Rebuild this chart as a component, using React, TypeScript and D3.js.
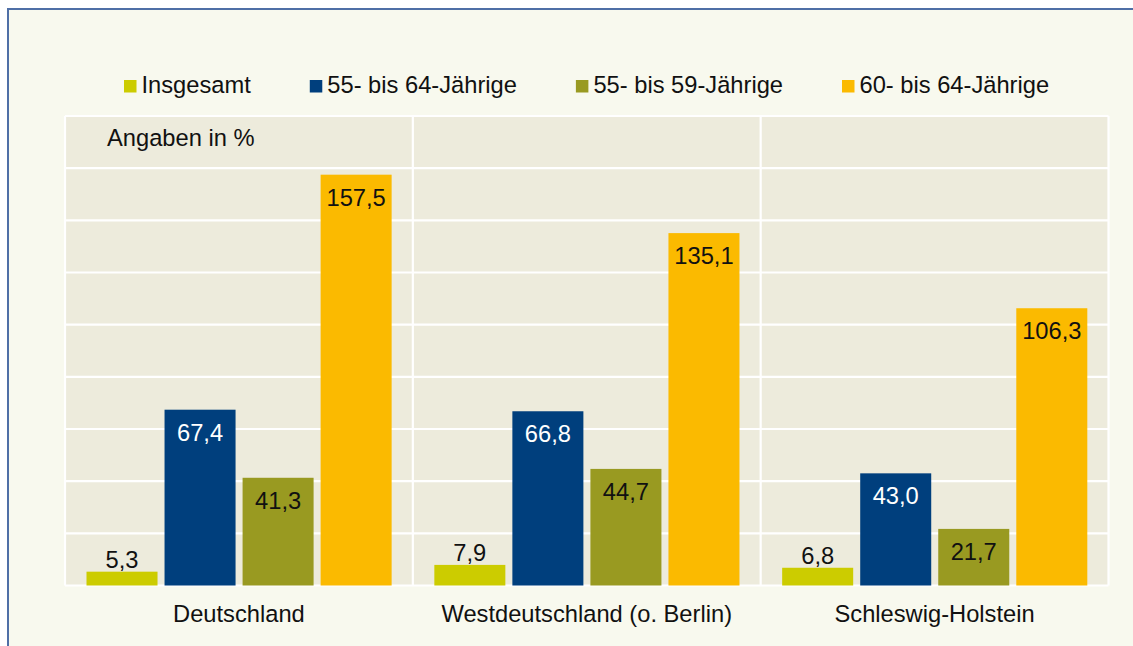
import React, { useEffect, useRef } from "react";
import * as d3 from "d3";

const categories = ["Deutschland", "Westdeutschland (o. Berlin)", "Schleswig-Holstein"];
const seriesNames = ["Insgesamt", "55- bis 64-Jährige", "55- bis 59-Jährige", "60- bis 64-Jährige"];
const insgesamt = [5.3, 7.9, 6.8];
const age55to64 = [67.4, 66.8, 43.0];
const age55to59 = [41.3, 44.7, 21.7];
const age60to64 = [157.5, 135.1, 106.3];
const seriesValues = [insgesamt, age55to64, age55to59, age60to64];
const gridTicks = [0, 20, 40, 60, 80, 100, 120, 140, 160, 180];
const unitNote = "Angaben in %";

const colors = ["#cccc00", "#003f7d", "#999a21", "#fbba00"];
const labelColors = ["#111111", "#ffffff", "#111111", "#111111"];

const W = 1133;
const H = 646;
const FONT = "'Liberation Sans', Arial, Helvetica, sans-serif";
const FS = 23.7;

export default function App() {
  const ref = useRef<SVGSVGElement | null>(null);

  useEffect(() => {
    const svg = d3.select(ref.current);
    svg.selectAll("*").remove();

    // outer frame
    svg.append("rect").attr("x", 0).attr("y", 0).attr("width", W).attr("height", H).attr("fill", "#ffffff");
    svg.append("rect")
      .attr("x", 8).attr("y", 9).attr("width", W + 50).attr("height", H + 50)
      .attr("fill", "#f8f9ee").attr("stroke", "#4f6fa6").attr("stroke-width", 2);

    const plot = { left: 65, right: 1108.5, top: 116, bottom: 585.5 };

    const x = d3.scaleBand<string>().domain(categories).range([plot.left, plot.right]).padding(0);
    const inner = d3.scaleBand<string>()
      .domain(seriesNames)
      .range([21.5, x.bandwidth() - 21.2])
      .paddingInner(0.09)
      .paddingOuter(0);
    const y = d3.scaleLinear().domain([0, 180]).range([plot.bottom, plot.top]);

    // plot background
    svg.append("rect")
      .attr("x", plot.left).attr("y", plot.top)
      .attr("width", plot.right - plot.left).attr("height", plot.bottom - plot.top)
      .attr("fill", "#edebdc");

    // horizontal gridlines
    svg.append("g").selectAll("line").data(gridTicks).join("line")
      .attr("x1", plot.left).attr("x2", plot.right)
      .attr("y1", (d) => y(d)).attr("y2", (d) => y(d))
      .attr("stroke", "#ffffff").attr("stroke-width", 2.2);

    // vertical separators
    const seps = [plot.left, ...categories.map((c) => (x(c) as number) + x.bandwidth())];
    svg.append("g").selectAll("line").data(seps).join("line")
      .attr("x1", (d) => d).attr("x2", (d) => d)
      .attr("y1", plot.top).attr("y2", plot.bottom)
      .attr("stroke", "#ffffff").attr("stroke-width", 2.2);

    // bars
    const barData: { cat: string; s: number; v: number }[] = [];
    categories.forEach((cat, ci) => {
      seriesValues.forEach((vals, si) => barData.push({ cat, s: si, v: vals[ci] }));
    });

    const bx = (d: { cat: string; s: number }) => (x(d.cat) as number) + (inner(seriesNames[d.s]) as number);

    svg.append("g").selectAll("rect").data(barData).join("rect")
      .attr("x", bx)
      .attr("y", (d) => y(d.v))
      .attr("width", inner.bandwidth())
      .attr("height", (d) => y(0) - y(d.v))
      .attr("fill", (d) => colors[d.s]);

    // value labels
    const fmt = (v: number) => d3.format(".1f")(v).replace(".", ",");
    svg.append("g").selectAll("text").data(barData).join("text")
      .attr("x", (d) => bx(d) + inner.bandwidth() / 2)
      .attr("y", (d) => (d.s === 0 ? y(d.v) - 4 : y(d.v) + 31))
      .attr("text-anchor", "middle")
      .attr("font-family", FONT).attr("font-size", FS)
      .attr("fill", (d) => labelColors[d.s])
      .text((d) => fmt(d.v));

    // category labels
    svg.append("g").selectAll("text").data(categories).join("text")
      .attr("x", (d) => (x(d) as number) + x.bandwidth() / 2)
      .attr("y", 622)
      .attr("text-anchor", "middle")
      .attr("font-family", FONT).attr("font-size", FS)
      .attr("fill", "#111111")
      .text((d) => d);

    // unit note
    svg.append("text")
      .attr("x", 107).attr("y", 146)
      .attr("font-family", FONT).attr("font-size", FS)
      .attr("fill", "#111111")
      .text(unitNote);

    // legend
    const lg = svg.append("g");
    let cx = 124;
    seriesNames.forEach((name, i) => {
      lg.append("rect").attr("x", cx).attr("y", 80).attr("width", 12.5).attr("height", 12.5).attr("fill", colors[i]);
      const t = lg.append("text")
        .attr("x", cx + 17.5).attr("y", 92.5)
        .attr("font-family", FONT).attr("font-size", FS)
        .attr("fill", "#111111")
        .text(name);
      const len = (t.node() as SVGTextElement).getComputedTextLength();
      cx = cx + 17.5 + len + 59;
    });
  }, []);

  return (
    <svg
      ref={ref}
      width={W}
      height={H}
      style={{ position: "absolute", left: 0, top: 0, display: "block" }}
    />
  );
}
